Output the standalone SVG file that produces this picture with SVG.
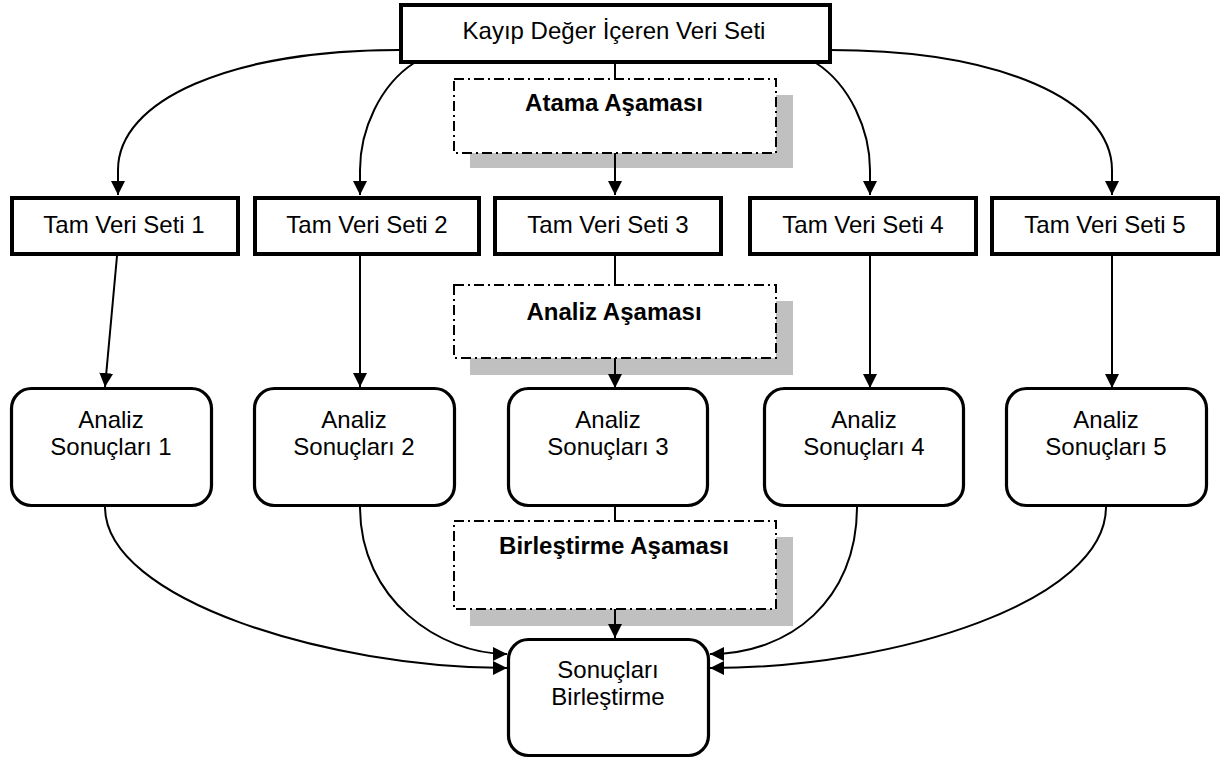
<svg xmlns="http://www.w3.org/2000/svg" width="1228" height="762" viewBox="0 0 1228 762">
<style>
.t{font-family:"Liberation Sans",Arial,sans-serif;font-size:24px;fill:#000;text-anchor:middle}
.b{font-family:"Liberation Sans",Arial,sans-serif;font-size:24px;font-weight:bold;fill:#000;text-anchor:middle}
.box{fill:#fff;stroke:#000;stroke-width:4}
.rbox{fill:#fff;stroke:#000;stroke-width:3.2}
.ph{fill:#fff;stroke:#000;stroke-width:2}
.ph{stroke-dasharray:10 4 2 4}
.sh{fill:#c0c0c0;stroke:none}
.ca{fill:none;stroke:#000;stroke-width:2;marker-end:url(#ah)}
</style>
<defs>
<marker id="ah" markerUnits="userSpaceOnUse" markerWidth="16" markerHeight="16" refX="14" refY="7" orient="auto">
<path d="M0,0 L14,7 L0,14 z" fill="#000"/>
</marker>
</defs>
<rect class="sh" x="470" y="95" width="323" height="73"/>
<rect class="sh" x="470" y="301" width="323" height="74"/>
<rect class="sh" x="470" y="537" width="323" height="89"/>
<g id="connectors">
<path class="ca" d="M399,50 C230,50 118,100 118,170 L118,195"/>
<path class="ca" d="M414,63 C380,85 360,130 360,170 L360,195"/>
<path class="ca" d="M615,63 L615,195"/>
<path class="ca" d="M816,63 C850,85 870,130 870,170 L870,195"/>
<path class="ca" d="M830,50 C1000,50 1112,100 1112,170 L1112,195"/>
<path class="ca" d="M117,256 L105,387"/>
<path class="ca" d="M360,256 L360,387"/>
<path class="ca" d="M615,256 L615,388"/>
<path class="ca" d="M870,256 L870,388"/>
<path class="ca" d="M1112,256 L1112,388"/>
<path class="ca" d="M615,507 L615,638"/>
<path class="ca" d="M105,507 C105,600 330,668 507,668"/>
<path class="ca" d="M360,507 C360,600 440,654 507,654"/>
<path class="ca" d="M857,507 C857,600 790,654 710,654"/>
<path class="ca" d="M1106,507 C1106,600 900,668 710,668"/>
</g>
<g id="n-source"><rect class="box" x="401" y="5" width="429" height="57"/><text class="t" x="614" y="39">Kayıp Değer İçeren Veri Seti</text></g>
<g id="p-atama"><rect class="ph" x="454" y="79" width="322" height="74"/><text class="b" x="614" y="111">Atama Aşaması</text></g>
<g id="n-tam1"><rect class="box" x="12" y="198" width="226" height="56"/><text class="t" x="124" y="233">Tam Veri Seti 1</text></g>
<g id="n-tam2"><rect class="box" x="255" y="198" width="224" height="56"/><text class="t" x="367" y="233">Tam Veri Seti 2</text></g>
<g id="n-tam3"><rect class="box" x="495" y="198" width="226" height="56"/><text class="t" x="608" y="233">Tam Veri Seti 3</text></g>
<g id="n-tam4"><rect class="box" x="750" y="198" width="226" height="56"/><text class="t" x="863" y="233">Tam Veri Seti 4</text></g>
<g id="n-tam5"><rect class="box" x="992" y="198" width="226" height="56"/><text class="t" x="1105" y="233">Tam Veri Seti 5</text></g>
<g id="p-analiz"><rect class="ph" x="454" y="285" width="322" height="73"/><text class="b" x="614" y="320">Analiz Aşaması</text></g>
<g id="n-as1"><rect class="rbox" x="11.5" y="388.5" width="200" height="117" rx="20"/><text class="t" x="111" y="428">Analiz</text><text class="t" x="111" y="455">Sonuçları 1</text></g>
<g id="n-as2"><rect class="rbox" x="254.5" y="388.5" width="200" height="117" rx="20"/><text class="t" x="354" y="428">Analiz</text><text class="t" x="354" y="455">Sonuçları 2</text></g>
<g id="n-as3"><rect class="rbox" x="508.5" y="388.5" width="199" height="117" rx="20"/><text class="t" x="608" y="428">Analiz</text><text class="t" x="608" y="455">Sonuçları 3</text></g>
<g id="n-as4"><rect class="rbox" x="764.5" y="388.5" width="199" height="117" rx="20"/><text class="t" x="864" y="428">Analiz</text><text class="t" x="864" y="455">Sonuçları 4</text></g>
<g id="n-as5"><rect class="rbox" x="1006.5" y="388.5" width="200" height="117" rx="20"/><text class="t" x="1106" y="428">Analiz</text><text class="t" x="1106" y="455">Sonuçları 5</text></g>
<g id="p-birlestirme"><rect class="ph" x="454" y="521" width="322" height="88"/><text class="b" x="614" y="554">Birleştirme Aşaması</text></g>
<g id="n-sonuc"><rect class="rbox" x="508.5" y="639.5" width="200" height="116" rx="20"/><text class="t" x="608" y="678">Sonuçları</text><text class="t" x="608" y="705">Birleştirme</text></g>
</svg>
